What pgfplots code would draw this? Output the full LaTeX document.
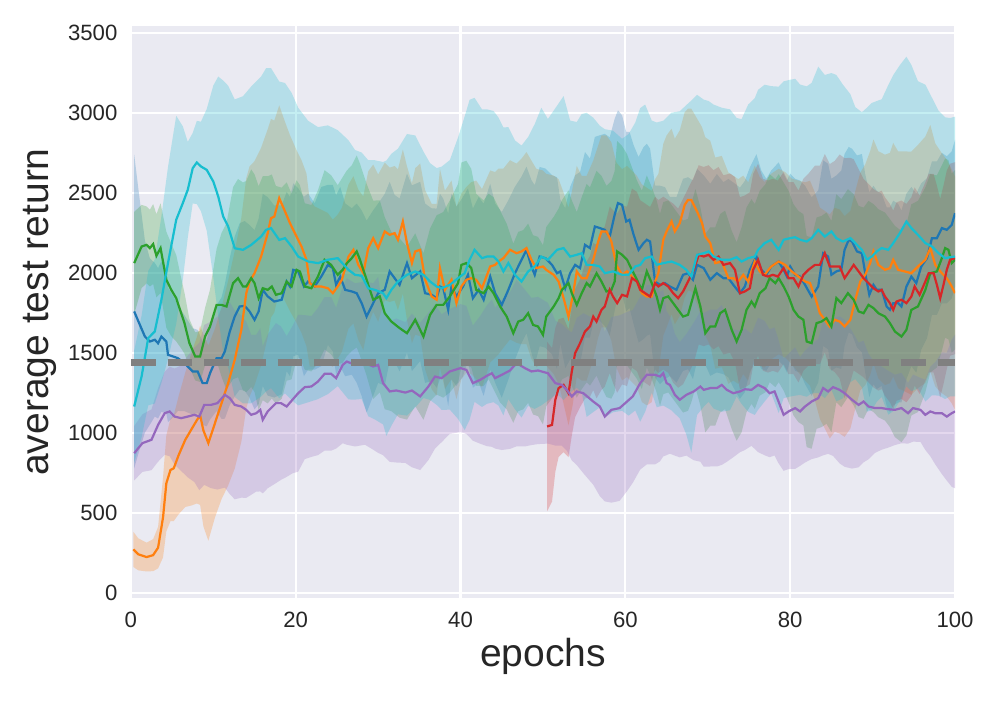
\documentclass[border=0pt]{standalone}
\usepackage{fontspec}
\setmainfont{Liberation Sans}
\usepackage{pgfplots}
\usepackage{pgfplotstable}
\pgfplotsset{compat=1.18}
\usepgfplotslibrary{fillbetween}
\definecolor{tabblue}{HTML}{1F77B4}
\definecolor{taborange}{HTML}{FF7F0E}
\definecolor{tabgreen}{HTML}{2CA02C}
\definecolor{tabred}{HTML}{D62728}
\definecolor{tabpurple}{HTML}{9467BD}
\definecolor{tabcyan}{HTML}{17BECF}
\definecolor{bgcol}{HTML}{EAEAF2}
\definecolor{txtcol}{HTML}{262626}
\definecolor{dashcol}{HTML}{808080}

\pgfplotstableread{
x y s
0.4 1165 350
1.3 1353 380
2.1 1592 420
2.9 1634 450
3.7 1832 520
4.5 2061 600
5.5 2332 650
6.3 2436 480
6.9 2519 300
7.5 2654 220
8.0 2690 260
8.5 2665 280
9.2 2644 380
10.0 2571 600
10.6 2477 750
11.2 2352 850
11.8 2290 880
12.6 2154 930
13.6 2144 960
14.6 2175 990
15.8 2227 1000
16.4 2269 1010
17.0 2280 1000
18.0 2206 990
18.7 2217 970
19.5 2165 960
20.3 2102 930
21.5 2071 880
22.7 2061 850
23.9 2082 840
25.1 2092 800
26.4 2019 810
27.2 1988 780
28.0 1982 770
28.8 1904 800
29.6 1894 810
30.6 1873 820
31.0 1842 860
31.6 1894 850
32.4 1946 830
33.5 1988 880
34.5 2009 850
35.5 1988 770
36.3 1946 740
37.1 1915 740
37.7 1904 760
38.7 1925 780
39.7 1967 880
40.5 1998 980
41.1 2082 1000
41.7 2144 950
42.6 2092 930
43.2 2102 920
44.0 2102 910
44.6 2071 900
45.2 2009 900
45.8 2061 850
46.6 1988 840
47.4 1946 850
48.2 2009 840
49.0 2040 890
49.8 2102 930
50.6 2082 880
51.7 2144 900
52.5 2155 950
53.3 2102 850
54.1 2113 830
54.7 2123 870
55.3 2050 950
56.1 2050 920
56.9 2040 880
57.5 1998 900
58.5 2009 880
59.6 1988 850
60.4 1988 880
61.2 2040 900
61.8 2050 980
62.4 2092 960
63.2 2102 850
63.8 2050 890
64.6 2061 890
65.6 2071 930
66.6 2050 960
67.4 2019 1030
68.0 1977 1100
68.7 2113 1000
69.5 2123 960
70.1 2134 940
70.7 2102 950
71.7 2082 950
72.7 2082 940
73.5 2098 870
74.1 2071 890
74.9 2092 960
75.7 2102 990
76.1 2144 1000
76.9 2186 990
77.7 2207 960
78.6 2144 1020
79.2 2207 990
80.0 2217 990
80.6 2223 990
81.2 2207 970
82.0 2196 970
82.6 2217 970
83.4 2269 1020
84.2 2227 1010
85.0 2259 990
85.6 2217 1020
86.4 2196 980
87.3 2217 900
87.9 2186 850
88.7 2144 860
89.3 2082 950
89.9 2102 960
90.5 2134 940
91.1 2155 930
91.9 2144 1030
92.5 2186 1050
93.3 2248 1050
94.1 2321 1030
94.7 2280 1020
95.5 2238 960
96.4 2186 990
97.2 2165 930
98.0 2123 890
98.8 2092 880
99.4 2098 870
100 2102 874
}\cyandata

\pgfplotstableread{
x y s
0.4 1759 980
1.0 1686 800
1.7 1602 600
2.3 1571 520
2.9 1582 480
3.3 1560 470
3.7 1602 470
4.3 1571 450
4.5 1488 420
5.1 1478 380
5.7 1467 330
6.5 1436 300
7.5 1384 270
8.1 1384 260
8.7 1311 260
9.2 1311 270
9.6 1373 290
10.4 1467 330
11.0 1467 380
11.4 1509 420
12.0 1634 460
12.6 1728 500
13.2 1790 520
13.8 1794 530
14.4 1759 540
15.0 1707 560
15.5 1759 580
16.0 1894 600
16.6 1853 620
17.4 1821 600
18.3 1832 590
18.9 1946 560
19.3 1915 560
19.7 2019 540
20.3 2009 520
21.0 1915 560
21.5 1946 550
22.3 1915 520
23.1 1977 560
23.9 2050 500
24.5 2030 520
24.9 1925 560
25.4 1977 560
26.0 1894 540
26.8 1884 520
27.4 1873 560
28.0 1811 580
28.6 1727 600
29.4 1811 580
30.0 1873 560
30.8 1894 600
31.4 2009 560
32.0 1967 520
32.6 1925 540
33.5 2061 560
34.1 1967 580
35.1 2009 560
35.7 1873 560
36.5 1863 540
37.1 1842 560
37.5 1915 580
37.9 1904 560
38.5 1769 600
38.9 1915 580
39.5 1853 560
40.3 1915 560
40.9 1988 540
41.5 1842 560
42.2 1894 580
42.8 1832 600
43.6 1977 580
44.2 1873 560
45.0 1800 580
45.8 1894 560
46.6 1998 540
47.4 2082 520
48.0 2144 520
48.6 2040 540
49.0 1988 560
49.6 2102 560
50.3 2092 560
51.1 2050 560
51.7 1998 600
52.1 2009 450
52.7 1904 500
53.3 1998 540
53.9 2050 560
54.5 2030 600
55.1 2175 580
55.7 2155 560
56.3 2290 560
56.9 2280 580
57.5 2269 600
58.1 2227 620
58.7 2363 600
59.1 2436 580
59.6 2425 560
60.1 2321 560
60.5 2332 550
61.0 2238 560
61.6 2144 580
62.2 2186 600
62.6 2207 600
63.0 2196 580
63.6 1946 600
64.2 1925 620
64.8 1936 600
65.4 1915 560
66.2 1894 580
67.0 1988 600
67.6 1998 600
68.2 1957 620
68.7 2050 600
69.5 2030 580
70.3 1957 600
71.1 1998 620
71.9 1967 600
72.5 1967 620
73.1 1925 640
73.9 1873 660
74.5 1915 660
75.1 2019 640
75.9 2102 640
76.5 2019 620
77.1 1988 600
77.7 2040 600
78.6 2071 620
79.2 2019 600
79.6 1977 600
80.0 2040 580
80.6 1988 600
81.2 1977 600
81.8 1925 620
82.6 1852 620
83.4 1915 600
84.0 2123 580
84.6 2102 580
85.0 1988 600
85.6 2009 600
86.2 2019 620
86.6 2144 600
87.1 2207 580
87.5 2196 580
88.1 2134 600
88.7 2123 620
89.1 1998 620
89.6 1863 640
90.1 1925 620
90.5 1894 620
91.1 1894 600
91.7 1790 620
92.1 1769 640
92.5 1811 640
93.1 1811 620
93.5 1790 600
94.1 1915 580
94.7 1977 560
95.3 1936 560
95.9 2040 520
96.6 2092 500
97.2 2217 480
97.8 2217 480
98.4 2280 470
99.0 2269 460
99.6 2300 460
100 2373 460
}\bluedata

\pgfplotstableread{
x y s
0.3 272 110
0.9 241 100
1.9 224 90
2.7 236 100
3.3 283 130
3.9 472 250
4.3 685 300
4.8 768 320
5.2 779 330
5.8 862 370
6.6 957 420
7.4 1027 480
8.0 1079 520
8.4 1110 560
8.8 1015 600
9.4 936 610
10.2 1061 590
11.0 1186 600
11.8 1311 640
12.6 1457 680
13.4 1644 700
14.0 1873 720
14.4 1946 720
15.0 1998 700
15.8 2102 680
16.6 2248 650
17.0 2342 620
17.4 2352 600
18.0 2467 580
18.7 2384 560
19.3 2311 550
20.1 2227 540
20.7 2165 540
21.3 2082 540
21.7 1936 520
22.3 1915 500
23.1 1915 480
23.9 1904 470
24.5 1873 460
25.1 1915 450
25.6 1957 450
26.4 2102 450
27.0 2144 460
27.6 2050 470
28.2 1998 480
28.8 2155 480
29.4 2217 460
30.0 2155 460
30.8 2259 430
31.4 2238 420
32.0 2248 420
32.4 2207 440
33.0 2321 450
33.5 2186 480
34.1 2061 500
34.5 2134 520
35.1 2144 540
35.7 1957 560
36.5 1852 580
37.1 1832 600
37.5 2030 620
38.1 1894 620
38.9 1957 620
39.5 1811 600
40.1 1915 580
40.7 1957 580
41.3 1967 600
41.9 1957 620
42.6 1904 620
43.6 2040 600
44.2 2050 580
44.6 2071 580
45.2 2092 560
46.0 2144 560
46.8 2123 560
47.4 2134 580
48.0 2155 600
48.6 2082 620
49.2 2030 620
50.0 2040 600
50.4 2019 600
51.3 1988 620
51.9 1946 640
52.5 1842 660
53.1 1727 680
53.6 1852 680
54.1 2009 660
54.7 1967 640
55.3 1967 640
56.1 2082 620
56.7 2196 600
57.1 2259 600
57.7 2259 600
58.3 2196 620
58.9 2050 640
59.6 1988 660
60.2 2009 660
60.8 1977 660
61.4 1946 660
62.0 1873 680
62.6 1852 680
63.2 1852 660
63.6 1946 640
64.0 1998 620
64.6 2207 600
65.0 2259 600
65.6 2321 580
66.0 2259 580
66.6 2311 580
67.2 2425 580
67.6 2456 570
68.0 2456 570
68.7 2384 580
69.3 2311 600
69.7 2227 620
70.3 2186 640
70.9 2061 660
71.7 2071 660
72.5 1967 660
73.1 1967 640
73.7 1946 640
74.3 1988 620
74.9 1946 620
75.7 2071 600
76.3 2009 590
76.9 1988 580
77.7 2040 580
78.6 2071 580
79.4 2050 580
80.2 2009 580
81.0 1977 600
81.8 1946 620
82.4 1936 640
83.0 1852 650
83.6 1748 660
84.2 1707 680
84.8 1665 700
85.4 1707 700
86.0 1696 700
86.6 1665 690
87.3 1707 680
87.9 1832 680
88.5 1946 680
89.1 1988 690
89.7 2061 700
90.1 2134 700
90.7 2050 710
91.5 2019 720
92.1 2030 720
92.5 2082 730
93.1 2019 740
93.9 2009 750
94.7 1998 760
95.5 2040 760
96.4 2082 770
97.0 2155 770
97.6 2050 760
98.4 1998 750
99.0 1967 740
99.6 1915 730
100 1873 730
}\orangedata

\pgfplotstableread{
x y s
0.4 2061 320
1.3 2165 260
1.9 2175 240
2.3 2155 240
2.7 2180 250
3.1 2107 260
3.6 2155 280
4.3 1957 300
4.9 1894 290
5.5 1842 270
6.1 1748 220
6.5 1686 190
7.1 1561 150
7.8 1478 150
8.4 1478 160
9.0 1602 180
9.6 1665 230
10.4 1800 350
11.0 1800 450
11.6 1790 520
12.4 1936 600
13.0 1967 620
13.6 1915 650
14.0 1915 660
14.6 1967 680
15.0 1936 680
15.5 1842 700
16.0 1904 700
16.6 1894 710
17.1 1915 700
17.6 1863 680
18.3 1873 660
18.9 1946 620
19.5 1915 580
20.1 2019 560
20.5 2009 540
21.1 1915 520
21.9 1904 520
22.7 1977 540
23.5 2082 560
24.3 2050 560
25.1 1988 560
25.7 2019 580
26.2 2060 580
26.8 2092 580
27.4 2134 600
27.8 2082 600
28.6 1957 600
29.4 1832 620
30.2 1853 600
30.8 1748 600
31.6 1696 560
32.6 1655 560
33.5 1623 540
34.5 1707 540
35.5 1602 520
36.3 1738 540
37.1 1800 560
37.9 1800 580
38.7 1853 600
39.7 1936 620
40.1 2050 640
40.7 2061 640
41.3 2030 620
41.9 1894 600
42.8 1873 580
43.4 1915 580
44.0 1873 600
44.8 1790 600
45.6 1727 580
46.4 1623 560
47.0 1696 560
47.6 1707 560
48.2 1748 560
48.8 1675 560
49.4 1665 560
50.0 1613 560
50.4 1727 560
51.3 1790 560
51.9 1842 560
52.3 1894 560
53.1 1936 580
53.5 1873 580
54.1 1800 580
54.7 1873 600
55.3 1936 620
55.7 1915 620
56.5 1998 640
57.1 1946 660
57.7 1884 660
58.3 1894 680
58.7 1946 690
59.0 2134 690
59.6 2113 680
60.2 2082 660
60.8 2019 640
61.4 1957 620
62.0 1894 620
62.6 2009 600
63.2 1936 600
63.8 1852 600
64.2 1769 600
64.6 1842 600
65.2 1853 600
65.8 1811 600
66.4 1769 600
67.0 1727 600
67.6 1738 600
68.0 1811 620
68.5 1904 620
69.1 1790 620
69.7 1623 620
70.3 1665 620
70.9 1665 620
71.5 1748 620
72.1 1769 620
72.9 1644 620
73.5 1571 620
74.1 1644 640
74.7 1769 640
75.3 1821 640
75.7 1790 640
76.3 1873 640
77.0 1904 650
77.5 1967 650
78.2 1936 650
78.6 1967 650
79.2 1915 650
79.8 1853 660
80.4 1769 660
81.0 1727 660
81.6 1707 660
82.0 1571 660
82.6 1561 660
83.2 1686 660
83.8 1696 660
84.4 1717 660
85.0 1665 660
85.6 1842 650
86.2 1811 650
87.0 1873 650
87.7 1832 660
88.3 1759 660
88.9 1748 660
89.5 1800 650
90.1 1780 650
90.7 1748 650
91.5 1727 650
92.1 1686 650
92.7 1634 660
93.5 1602 660
94.1 1644 660
94.7 1769 660
95.5 1790 660
96.4 1894 640
97.0 1998 620
97.8 2009 600
98.4 2092 580
98.8 2155 560
99.2 2144 560
99.6 2061 560
100 2082 560
}\greendata

\pgfplotstableread{
x y s
50.5 1040 530
51.1 1050 480
51.5 1207 450
51.9 1280 430
52.5 1300 420
53.1 1248 400
53.5 1384 400
53.9 1498 400
54.5 1561 400
55.1 1634 420
55.7 1665 440
56.1 1727 460
56.5 1696 480
57.1 1769 500
57.5 1790 500
58.1 1894 520
58.5 1852 540
59.0 1811 560
59.6 1863 560
60.2 1853 560
60.8 1967 560
61.4 1946 560
61.8 1894 560
62.4 1873 560
63.0 1852 560
63.6 1936 540
64.0 1915 540
64.6 1936 540
65.2 1915 540
65.8 1873 560
66.4 1842 560
67.0 1884 580
67.6 1946 580
68.3 2019 580
68.9 2113 560
69.5 2102 560
70.1 2113 560
70.7 2082 560
71.3 2102 560
71.9 2050 560
72.7 2061 560
73.3 2019 580
73.9 1873 600
74.5 1884 600
75.1 1904 600
75.5 2019 600
76.1 2082 600
76.7 1988 600
77.3 1977 600
77.9 1988 600
78.5 1977 600
79.2 2030 600
79.8 1967 600
80.4 1967 600
81.0 1915 600
81.6 1988 600
82.2 2019 600
83.0 2050 620
83.6 2050 620
84.2 2123 620
84.8 2040 640
85.4 2040 660
86.0 2040 700
86.6 1967 750
87.3 2019 700
87.7 2050 660
88.3 2009 640
88.9 1967 620
89.5 1936 620
90.1 1904 620
90.7 1884 620
91.1 1894 620
91.5 1852 620
92.1 1811 620
92.5 1769 620
92.9 1821 620
93.5 1832 620
94.1 1811 620
94.7 1852 620
95.1 1915 620
95.7 1863 620
96.4 1946 620
96.8 1998 620
97.4 1998 620
97.8 1925 620
98.2 1842 620
98.6 1925 620
99.0 2019 620
99.4 2082 600
100 2092 600
}\reddata

\pgfplotstableread{
x y s
0.4 873 170
1.4 936 180
2.5 957 190
3.3 1050 230
4.1 1123 260
4.7 1134 280
5.3 1102 300
6.1 1092 330
6.9 1102 380
7.7 1113 420
8.3 1102 460
8.9 1175 500
9.7 1175 520
10.5 1186 540
11.4 1238 580
12.0 1217 600
12.6 1175 590
13.4 1165 570
14.0 1144 550
14.6 1113 500
15.2 1123 490
15.7 1144 510
16.0 1082 460
16.6 1134 480
17.6 1186 500
18.2 1186 480
18.9 1165 440
19.6 1207 460
20.3 1248 490
21.1 1286 450
21.9 1290 440
22.7 1321 460
23.5 1369 480
24.3 1369 480
24.9 1342 440
25.7 1425 490
26.2 1446 520
27.2 1425 510
28.4 1436 510
29.4 1415 520
30.0 1425 550
30.6 1311 450
31.4 1259 440
32.2 1265 450
33.3 1252 440
34.1 1265 480
35.1 1228 460
36.1 1290 460
36.9 1352 450
37.7 1342 400
38.7 1384 390
40.0 1405 400
40.7 1394 400
41.5 1311 360
42.4 1332 400
43.2 1357 440
43.8 1373 460
44.2 1342 440
45.0 1363 470
46.0 1390 490
46.8 1436 520
47.8 1405 490
48.6 1384 460
49.4 1390 460
50.6 1373 440
51.5 1311 390
52.3 1300 380
52.9 1269 380
53.5 1228 400
54.1 1259 460
54.9 1248 500
56.1 1196 520
56.9 1165 560
57.5 1102 530
58.3 1144 580
59.3 1155 580
60.2 1196 560
60.9 1228 540
61.8 1311 540
62.6 1363 560
63.6 1363 560
64.2 1352 530
64.6 1373 520
65.0 1311 450
65.4 1300 430
66.0 1238 380
66.6 1207 360
67.4 1238 380
68.3 1259 430
69.1 1290 470
69.5 1269 480
70.3 1280 490
71.1 1280 490
71.7 1300 500
72.3 1269 450
73.1 1248 400
73.9 1259 380
74.5 1273 380
75.3 1269 350
76.1 1300 420
76.9 1280 420
77.5 1248 400
78.1 1259 400
78.5 1207 390
79.2 1113 350
79.8 1134 360
80.6 1155 380
81.2 1134 340
81.8 1165 350
82.6 1196 360
83.4 1217 370
84.0 1280 420
84.6 1259 390
85.2 1286 430
86.0 1269 460
86.6 1248 460
87.5 1207 430
88.3 1175 390
88.9 1196 380
89.5 1165 330
90.3 1155 280
91.1 1155 260
91.9 1148 240
92.7 1144 220
93.5 1155 220
94.3 1123 190
94.9 1155 210
95.8 1144 200
96.4 1113 220
97.0 1134 280
97.6 1123 320
98.4 1123 380
99.0 1102 400
99.6 1123 460
100 1134 480
}\purpledata

\begin{document}
\begin{tikzpicture}
\begin{axis}[
  scale only axis,
  width=297.8pt, height=206.7pt,
  xmin=0, xmax=100, ymin=-32, ymax=3543,
  axis background/.style={fill=bgcol},
  axis line style={draw=none},
  tick style={draw=none},
  major tick length=0pt,
  xtick={0,20,...,100},
  ytick={0,500,...,3500},
  grid=major,
  major grid style={white, line width=0.8pt},
  /pgf/number format/assume math mode=true,
  /pgf/number format/1000 sep={},
  tick label style={font=\fontsize{8}{9.6}\selectfont, text=txtcol},
  xticklabel style={anchor=north, inner sep=0pt, yshift=-5pt},
  yticklabel style={anchor=east, inner sep=0pt, xshift=-4.7pt},
  xlabel={epochs},
  ylabel={average test return},
  every axis x label/.style={at={(axis description cs:0.5,-0.1014)}, anchor=center, font=\fontsize{14.1}{17}\selectfont, text=txtcol},
  every axis y label/.style={at={(axis description cs:-0.1105,0.5)}, anchor=center, rotate=90, font=\fontsize{14.1}{17}\selectfont, text=txtcol},
]
% bands
\addplot[draw=none, name path=bu, forget plot] table[x=x, y expr=\thisrow{y}+\thisrow{s}] {\bluedata};
\addplot[draw=none, name path=bl, forget plot] table[x=x, y expr=\thisrow{y}-\thisrow{s}] {\bluedata};
\addplot[fill=tabblue, fill opacity=0.25, draw=none, forget plot] fill between[of=bu and bl];

\addplot[draw=none, name path=ou, forget plot] table[x=x, y expr=\thisrow{y}+\thisrow{s}] {\orangedata};
\addplot[draw=none, name path=ol, forget plot] table[x=x, y expr=\thisrow{y}-\thisrow{s}] {\orangedata};
\addplot[fill=taborange, fill opacity=0.25, draw=none, forget plot] fill between[of=ou and ol];

\addplot[draw=none, name path=gu, forget plot] table[x=x, y expr=\thisrow{y}+\thisrow{s}] {\greendata};
\addplot[draw=none, name path=gl, forget plot] table[x=x, y expr=\thisrow{y}-\thisrow{s}] {\greendata};
\addplot[fill=tabgreen, fill opacity=0.25, draw=none, forget plot] fill between[of=gu and gl];

\addplot[draw=none, name path=ru, forget plot] table[x=x, y expr=\thisrow{y}+\thisrow{s}] {\reddata};
\addplot[draw=none, name path=rl, forget plot] table[x=x, y expr=\thisrow{y}-\thisrow{s}] {\reddata};
\addplot[fill=tabred, fill opacity=0.25, draw=none, forget plot] fill between[of=ru and rl];

\addplot[draw=none, name path=pu, forget plot] table[x=x, y expr=\thisrow{y}+\thisrow{s}] {\purpledata};
\addplot[draw=none, name path=pl, forget plot] table[x=x, y expr=\thisrow{y}-\thisrow{s}] {\purpledata};
\addplot[fill=tabpurple, fill opacity=0.25, draw=none, forget plot] fill between[of=pu and pl];

\addplot[draw=none, name path=cu, forget plot] table[x=x, y expr=\thisrow{y}+\thisrow{s}] {\cyandata};
\addplot[draw=none, name path=cl, forget plot] table[x=x, y expr=\thisrow{y}-\thisrow{s}] {\cyandata};
\addplot[fill=tabcyan, fill opacity=0.25, draw=none, forget plot] fill between[of=cu and cl];

% mean lines
\addplot[tabblue, line width=0.8pt, forget plot] table[x=x, y=y] {\bluedata};
\addplot[taborange, line width=0.8pt, forget plot] table[x=x, y=y] {\orangedata};
\addplot[tabgreen, line width=0.8pt, forget plot] table[x=x, y=y] {\greendata};
\addplot[tabred, line width=0.8pt, forget plot] table[x=x, y=y] {\reddata};
\addplot[tabpurple, line width=0.8pt, forget plot] table[x=x, y=y] {\purpledata};
\addplot[tabcyan, line width=0.8pt, forget plot] table[x=x, y=y] {\cyandata};

% baseline
\addplot[dashcol, line width=2.2pt, dash pattern=on 9pt off 4.25pt, forget plot] coordinates {(0,1440) (100,1440)};
\end{axis}
\pgfresetboundingbox
\path[use as bounding box] (-47.3pt,-36.86pt) rectangle (314.05pt,216.1pt);
\end{tikzpicture}
\end{document}
